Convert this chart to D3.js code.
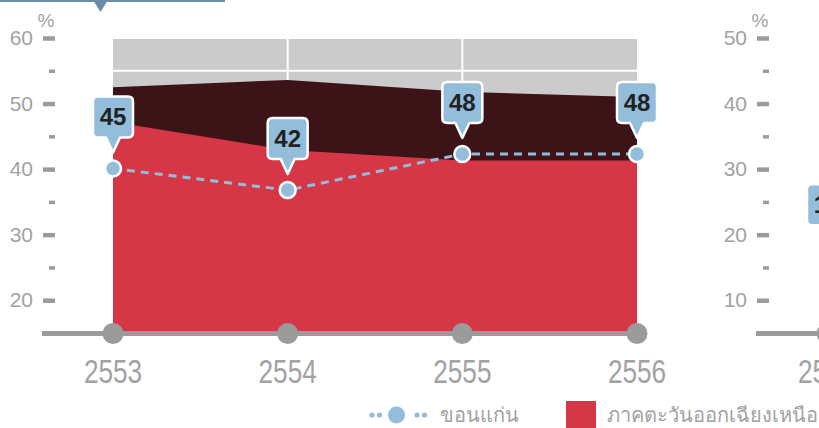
<!DOCTYPE html>
<html>
<head>
<meta charset="utf-8">
<script src="https://cdn.jsdelivr.net/npm/d3@7"></script>
<style>
  html, body { margin: 0; padding: 0; background: #ffffff; }
  svg { display: block; }
  text { font-family: "Liberation Sans", Arial, sans-serif; }
</style>
</head>
<body>
<svg id="chart" width="819" height="428"></svg>
<script>
// Years on the x axis
const years = [2553, 2554, 2555, 2556];

// Panel 1 series (%)
const wholeCountryPct = [52.5, 53.6, 51.8, 51.0];
const northeastPct = [47.2, 42.9, 41.3, 41.3];
const khonKaenPct = [40.1, 36.8, 42.3, 42.3];
const khonKaenTags = ["45", "42", "48", "48"];

// Panel 2 (only its first year falls inside the view)
const panel2KhonKaenPct = [16.7];
const panel2KhonKaenTags = ["18"];

// Axis ticks
const panel1Domain = [15, 60];
const panel1Major = [20, 30, 40, 50, 60];
const panel1Minor = [25, 35, 45, 55];
const panel1Grid = [20, 25, 30, 35, 40, 45, 50, 55, 60];
const panel2Domain = [5, 50];
const panel2Major = [10, 20, 30, 40, 50];
const panel2Minor = [15, 25, 35, 45];

// Legend
const legendLine = "ขอนแก่น";
const legendArea = "ภาคตะวันออกเฉียงเหนือ";

const C = {
  bg: "#cbcbcb",
  dark: "#3c1417",
  red: "#d63747",
  blue: "#93bddb",
  axis: "#9b9b9b",
  label: "#a2a2a2",
  tab: "#6a8dab"
};

const svg = d3.select("#chart");

// Selector tab along the top edge
svg.append("rect").attr("x", 0).attr("y", 0).attr("width", 225).attr("height", 2).attr("fill", C.tab);
svg.append("path").attr("d", "M93,0 L108,0 L100.5,12 Z").attr("fill", C.tab);

function drawPanel(g, cfg) {
  const x = d3.scalePoint().domain(years).range([113, 637]);
  const y = d3.scaleLinear().domain(cfg.domain).range([333, 38]);

  // Plot background with white grid
  if (cfg.background) {
    g.append("rect")
      .attr("x", x(years[0])).attr("y", y(cfg.domain[1]))
      .attr("width", x(years[years.length - 1]) - x(years[0]))
      .attr("height", y(cfg.domain[0]) - y(cfg.domain[1]))
      .attr("fill", C.bg);
    g.selectAll(".hgrid").data(cfg.grid).join("line")
      .attr("x1", x(years[0])).attr("x2", x(years[years.length - 1]))
      .attr("y1", d => y(d)).attr("y2", d => y(d))
      .attr("stroke", "#ffffff").attr("stroke-width", 2);
    g.selectAll(".vgrid").data(years.slice(1, -1)).join("line")
      .attr("x1", d => x(d)).attr("x2", d => x(d))
      .attr("y1", y(cfg.domain[1])).attr("y2", y(cfg.domain[0]))
      .attr("stroke", "#ffffff").attr("stroke-width", 2);
  }

  // Layered areas
  cfg.areas.forEach(a => {
    const area = d3.area()
      .x((d, i) => x(years[i]))
      .y0(y(cfg.domain[0]))
      .y1(d => y(d));
    g.append("path").datum(a.values).attr("d", area).attr("fill", a.color);
  });

  // y axis
  const yAxis = g.append("g").attr("transform", "translate(55,0)")
    .call(d3.axisLeft(y).tickValues(cfg.major).tickSize(12).tickPadding(10).tickFormat(d3.format("d")));
  yAxis.select(".domain").remove();
  yAxis.selectAll(".tick line").attr("stroke", C.axis).attr("stroke-width", 4.5);
  yAxis.selectAll(".tick text")
    .attr("fill", C.label).style("font-size", "21px").style("font-family", "Liberation Sans, Arial, sans-serif");
  const yMinor = g.append("g").attr("transform", "translate(55,0)")
    .call(d3.axisLeft(y).tickValues(cfg.minor).tickSize(6).tickFormat(""));
  yMinor.select(".domain").remove();
  yMinor.selectAll(".tick line").attr("stroke", C.axis).attr("stroke-width", 3.5);

  g.append("text").attr("x", 46).attr("y", 27).attr("text-anchor", "middle")
    .attr("fill", C.label).style("font-size", "19px").text("%");

  // Baseline with year markers
  g.append("line")
    .attr("x1", 42).attr("x2", x(years[years.length - 1]))
    .attr("y1", y(cfg.domain[0]) + 0.5).attr("y2", y(cfg.domain[0]) + 0.5)
    .attr("stroke", C.axis).attr("stroke-width", 5);
  g.selectAll(".yeardot").data(years).join("circle")
    .attr("cx", d => x(d)).attr("cy", y(cfg.domain[0]) + 0.5).attr("r", 10.5)
    .attr("fill", C.axis);
  g.selectAll(".yearlabel").data(years).join("text")
    .attr("transform", d => `translate(${x(d)},383) scale(0.77,1)`)
    .attr("text-anchor", "middle").attr("fill", C.label)
    .style("font-size", "34px").text(d => d);

  // Khon Kaen dashed line with tagged points
  const pts = cfg.line.map((v, i) => ({ x: x(years[i]), y: y(v), tag: cfg.tags[i] }));
  g.append("path").datum(pts)
    .attr("d", d3.line().x(d => d.x).y(d => d.y))
    .attr("fill", "none").attr("stroke", C.blue).attr("stroke-width", 3)
    .attr("stroke-dasharray", "8,6");
  g.selectAll(".pt").data(pts).join("circle")
    .attr("cx", d => d.x).attr("cy", d => d.y).attr("r", 8)
    .attr("fill", C.blue).attr("stroke", "#ffffff").attr("stroke-width", 2.5);

  const tag = g.selectAll(".tag").data(pts).join("g")
    .attr("transform", d => `translate(${d.x},${d.y})`);
  const w = 40, h = 41, top = -72, r = 5, tip = -16, half = 7;
  tag.append("path")
    .attr("d", () => {
      const l = -w / 2, rt = w / 2, b = top + h;
      return `M${l + r},${top} L${rt - r},${top} Q${rt},${top} ${rt},${top + r}` +
        ` L${rt},${b - r} Q${rt},${b} ${rt - r},${b} L${half},${b} L0,${tip} L${-half},${b}` +
        ` L${l + r},${b} Q${l},${b} ${l},${b - r} L${l},${top + r} Q${l},${top} ${l + r},${top} Z`;
    })
    .attr("fill", C.blue).attr("stroke", "#ffffff").attr("stroke-width", 2.5)
    .attr("stroke-linejoin", "round");
  tag.append("text").attr("x", 0).attr("y", top + 29)
    .attr("text-anchor", "middle").attr("fill", "#222222")
    .style("font-size", "24px").style("font-weight", "bold").text(d => d.tag);
}

drawPanel(svg.append("g"), {
  domain: panel1Domain, major: panel1Major, minor: panel1Minor, grid: panel1Grid,
  background: true,
  areas: [
    { values: wholeCountryPct, color: C.dark },
    { values: northeastPct, color: C.red }
  ],
  line: khonKaenPct, tags: khonKaenTags
});

drawPanel(svg.append("g").attr("transform", "translate(714,0)"), {
  domain: panel2Domain, major: panel2Major, minor: panel2Minor, grid: [],
  background: false,
  areas: [],
  line: panel2KhonKaenPct, tags: panel2KhonKaenTags
});

// Legend
const lg = svg.append("g").attr("transform", "translate(0,415)");
[372, 379.5, 417, 424.5].forEach(cx =>
  lg.append("circle").attr("cx", cx).attr("cy", 0).attr("r", 2.6).attr("fill", C.blue));
lg.append("circle").attr("cx", 396.5).attr("cy", 0).attr("r", 8.5).attr("fill", C.blue);
lg.append("text").attr("x", 440).attr("y", 7).attr("fill", C.label)
  .style("font-size", "20px").text(legendLine);
lg.append("rect").attr("x", 566).attr("y", -14).attr("width", 30).attr("height", 30).attr("fill", C.red);
lg.append("text").attr("x", 607).attr("y", 7).attr("fill", C.label)
  .style("font-size", "20px").text(legendArea);
</script>
</body>
</html>
